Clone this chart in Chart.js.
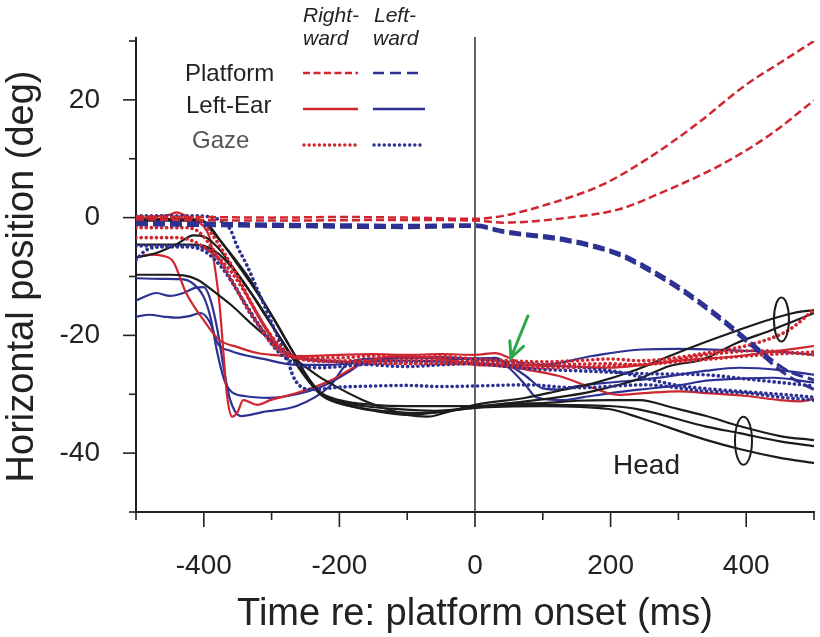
<!DOCTYPE html>
<html><head><meta charset="utf-8">
<script src="https://cdn.jsdelivr.net/npm/chart.js@4"></script>
<style>html,body{margin:0;padding:0;background:#fff}</style>
</head><body>
<canvas id="c" width="820" height="637"></canvas>
<script>
// ---------- data (time in ms, horizontal position in deg) ----------
const xTickLabels = [-400, -200, 0, 200, 400];
const yTickLabels = [20, 0, -20, -40];

// Platform (dashed)
const platRight1 = [[-500,0.2],[-400,0.1],[-300,0],[-200,0.1],[-100,0],[0,-0.2],[41,0.3],[114,2.5],[188,5.6],[253,9.9],[326,15.8],[400,22.6],[450,26.3],[500,30]];
const platRight2 = [[-500,-0.3],[-300,-0.5],[-100,-0.4],[0,-0.5],[41,-0.85],[138,0],[212,1.4],[276,4.3],[360,8.8],[433,13.9],[500,19.9]];
const platLeft1 = [[-500,-0.8],[-400,-0.9],[-300,-1.1],[-200,-1.2],[-100,-1.3],[0,-1.2],[41,-2.2],[138,-3.7],[212,-6],[260,-8.8],[310,-12.4],[360,-16.7],[408,-21.3],[458,-25.8],[500,-27.6]];
const platLeft2 = [[-500,-1.2],[-300,-1.5],[-100,-1.7],[0,-1.5],[41,-2.5],[138,-4.1],[212,-6.4],[260,-9.3],[310,-12.9],[360,-17.2],[408,-21.8],[458,-26.6],[500,-29.2]];

// Left-ear (solid)
const earRight1 = [[-500,-0.3],[-470,0.2],[-450,0.5],[-440,0.9],[-430,0.5],[-415,-0.5],[-400,-1.5],[-390,-4],[-383,-9],[-377,-14.5],[-371,-23],[-366,-30],[-358,-33.8],[-350,-33],[-342,-31],[-321,-31.8],[-302,-31],[-263,-29.8],[-214,-27.7],[-165,-24.7],[-116,-23.5],[-60,-23.8],[0,-25],[30,-25.2],[75,-25.8],[124,-26.9],[173,-28.9],[211,-30.1],[250,-29.8],[300,-29.5],[341,-29.8],[400,-30.3],[450,-31],[480,-31.2],[500,-30.8]];
const earRight2 = [[-500,-6.8],[-480,-6.3],[-460,-6.5],[-445,-7.5],[-426,-12.8],[-401,-17.3],[-378,-20.7],[-350,-22],[-321,-23],[-290,-23.4],[-250,-23.5],[-200,-23.3],[-150,-23.2],[-100,-23.3],[-50,-23.2],[0,-23.3],[30,-23],[50,-23.8],[75,-25],[124,-25.2],[197,-25.5],[250,-25],[300,-24.3],[390,-23.5],[450,-22.6],[500,-21.8]];
const earLeft1 = [[-500,-10.3],[-460,-10.4],[-430,-10.5],[-415,-11.3],[-400,-13.5],[-390,-17],[-380,-23],[-370,-27.5],[-360,-29.5],[-340,-30.3],[-303,-30.6],[-263,-30],[-224,-28.6],[-189,-26.4],[-165,-24.7],[-130,-24],[-80,-23.8],[-40,-24],[0,-24],[30,-23.8],[50,-25],[75,-26.9],[100,-29],[124,-29.2],[151,-28.6],[200,-28],[250,-27.5],[300,-26.7],[341,-26],[390,-25.5],[450,-25.9],[500,-26.7]];
const earLeft2 = [[-500,-14.1],[-485,-13.3],[-470,-12.8],[-450,-13.3],[-430,-12.8],[-412,-11.9],[-400,-11.8],[-390,-14],[-380,-19],[-370,-26],[-361,-31],[-345,-33.7],[-312,-33],[-263,-32],[-214,-28.6],[-190,-25],[-160,-24],[-100,-23.8],[-50,-23.7],[0,-23.9],[30,-24],[50,-25.5],[75,-28.5],[90,-30.5],[130,-31],[160,-30.5],[200,-29.8],[243,-29.2],[300,-28.5],[341,-27.7],[400,-27.3],[440,-27.2],[500,-28]];
const earLeft3 = [[-500,-16.8],[-480,-16.5],[-460,-16.8],[-440,-17],[-420,-16.7],[-405,-16.2],[-390,-18],[-380,-21.3],[-361,-22.6],[-312,-24],[-263,-25],[-214,-25],[-165,-24.5],[-100,-24.3],[-50,-24.4],[0,-24.7],[50,-25],[100,-25],[173,-23.5],[246,-22.4],[300,-22.3],[390,-22.6],[450,-22.8],[500,-23.3]];

// Gaze (dotted)
const gazeRight1 = [[-500,0],[-420,0],[-405,-0.5],[-390,-2.5],[-370,-6],[-350,-10],[-330,-14.5],[-310,-18.5],[-290,-21.5],[-270,-23.3],[-250,-23.8],[-200,-23.8],[-150,-23.5],[-100,-23.7],[-50,-23.6],[0,-24],[50,-24.3],[100,-24.5],[150,-24.3],[200,-24],[243,-24.3],[341,-23],[415,-21.3],[464,-19],[500,-15.6]];
const gazeRight2 = [[-500,-1.7],[-430,-1.7],[-410,-2.2],[-395,-4],[-375,-7.5],[-355,-11.5],[-335,-15.5],[-315,-19],[-295,-22],[-275,-23.5],[-250,-24],[-200,-24.3],[-100,-24.2],[0,-24.5],[100,-25],[200,-24.8],[243,-25],[341,-23.3],[420,-22.6],[500,-23.3]];
const gazeRight3 = [[-500,-3.4],[-440,-3.4],[-420,-3.8],[-400,-5],[-382,-6.5],[-361,-9],[-342,-12.2],[-322,-16.2],[-302,-20],[-287,-22.4],[-272,-23.5],[-250,-24.2],[-200,-24.5],[-100,-24.8],[0,-24.8],[100,-25.5],[200,-25.2],[300,-24.5],[400,-23.5],[500,-22.8]];
const gazeLeft1 = [[-500,0.3],[-420,0.3],[-385,0],[-370,-1],[-361,-2],[-351,-4.8],[-336,-8.2],[-321,-12.2],[-306,-16.2],[-292,-20],[-277,-24],[-268,-27],[-258,-28.6],[-240,-29.2],[-200,-28.8],[-150,-28.6],[-100,-28.5],[-50,-28.7],[0,-28.6],[75,-28.4],[150,-28.9],[250,-28.4],[340,-29.5],[400,-29.8],[450,-30.5],[500,-31]];
const gazeLeft2 = [[-500,-4.8],[-430,-4.8],[-401,-5.1],[-382,-6.5],[-357,-11],[-332,-16.2],[-307,-20],[-287,-22.4],[-268,-23.5],[-250,-24],[-200,-24.5],[-150,-25],[-100,-25.3],[-50,-25],[0,-24.8],[50,-25.3],[100,-25.8],[150,-26],[250,-26.5],[340,-26.7],[400,-27.4],[450,-28],[500,-28.6]];
const gazeLeft3 = [[-500,-7.2],[-485,-5.5],[-460,-5],[-420,-5],[-395,-6],[-370,-9],[-345,-13.5],[-320,-18],[-300,-21.5],[-280,-23.8],[-260,-25],[-230,-25.5],[-200,-25.3],[-150,-24.8],[-100,-24.6],[-50,-24.5],[0,-24.3],[50,-24.6],[100,-25],[200,-26],[300,-28.5],[390,-29.5],[450,-30],[500,-30.5]];

// Head (black solid)
const head1 = [[-500,-0.5],[-420,-0.5],[-400,-0.8],[-390,-2],[-361,-6],[-332,-10.5],[-302,-16.2],[-283,-20],[-262,-24.1],[-243,-28],[-224,-30.3],[-200,-31.3],[-165,-32],[-116,-32.5],[-60,-32.8],[0,-32.3],[50,-31.6],[100,-31.5],[150,-31.1],[197,-31],[243,-31],[292,-32.3],[341,-33.7],[390,-35.4],[450,-37.1],[500,-37.8]];
const head2 = [[-500,-0.2],[-410,-0.3],[-395,-1],[-375,-4],[-350,-8],[-320,-13],[-295,-17.5],[-270,-22.5],[-250,-26.5],[-230,-29.5],[-200,-31],[-150,-31.8],[-100,-32],[-50,-32],[0,-32],[75,-31.2],[124,-30.5],[173,-29.5],[239,-27.5],[287,-25.2],[336,-24.1],[386,-21.3],[435,-19.2],[470,-17.6],[500,-16.2]];
const head3 = [[-500,-4.6],[-420,-4.6],[-395,-5],[-370,-7],[-345,-10.5],[-320,-14.5],[-295,-19],[-270,-23.5],[-250,-27],[-230,-29.8],[-210,-31.2],[-170,-32.3],[-120,-33],[-80,-33.2],[-40,-32.8],[0,-32.2],[100,-31.8],[197,-32],[243,-32.6],[341,-35.5],[390,-36.6],[450,-38],[500,-38.8]];
const head4 = [[-500,-6.8],[-470,-6],[-440,-4.5],[-415,-3],[-400,-3.2],[-380,-5],[-360,-8],[-335,-12],[-310,-16.5],[-285,-21],[-260,-25.5],[-240,-28.5],[-220,-30.5],[-190,-31.8],[-150,-32.8],[-100,-33.5],[-50,-33],[0,-32.3],[100,-32],[197,-32.5],[243,-34],[342,-37.8],[390,-39.3],[450,-40.8],[500,-41.7]];
const head5 = [[-500,-9.7],[-450,-9.7],[-430,-9.8],[-410,-10.5],[-380,-13],[-360,-14.8],[-330,-18],[-310,-20],[-290,-22],[-260,-24.5],[-230,-27],[-200,-29],[-165,-31],[-130,-32.5],[-100,-33.5],[-70,-33.8],[-40,-33],[0,-31.8],[75,-30.6],[124,-29.4],[173,-28.2],[239,-25.8],[287,-23.5],[336,-21.3],[386,-19.2],[435,-17.3],[470,-16.2],[500,-15.7]];

// annotations (data coordinates)
const headLabel = {text: 'Head', x: 253, y: -42.2};
const ellipseUpper = {x: 452, y: -17.3};
const ellipseLower = {x: 396, y: -37.9};
const arrowTail = {x: 78, y: -16.7};
const arrowTip = {x: 53, y: -23.8};

// ---------- styles ----------
const RED = '#cf2630', BLUE = '#2c3192', BLACK = '#1c1c1c', GREEN = '#2ba84a';
const FONT = "'Liberation Sans', Arial, Helvetica, sans-serif";
const DASH_R = [8, 4], DASH_B = [12, 5], DOT = [0.1, 5];

function ds(arr, color, dash, width, cap) {
  return {
    data: arr.map(([x, y]) => ({x, y})),
    borderColor: color, borderWidth: width, borderDash: dash,
    borderCapStyle: cap || 'butt', pointRadius: 0, fill: false,
    cubicInterpolationMode: 'monotone'
  };
}

const DW = 3.6;
const datasets = [
  ds(platRight1, RED, DASH_R, 2.5), ds(platRight2, RED, DASH_R, 2.5),
  ds(platLeft1, BLUE, DASH_B, 3), ds(platLeft2, BLUE, DASH_B, 3),
  ds(gazeRight1, RED, DOT, DW, 'round'), ds(gazeRight2, RED, DOT, DW, 'round'), ds(gazeRight3, RED, DOT, DW, 'round'),
  ds(gazeLeft1, BLUE, DOT, DW, 'round'), ds(gazeLeft2, BLUE, DOT, DW, 'round'), ds(gazeLeft3, BLUE, DOT, DW, 'round'),
  ds(head1, BLACK, [], 2.2), ds(head2, BLACK, [], 2.2), ds(head3, BLACK, [], 2.2), ds(head4, BLACK, [], 2.2), ds(head5, BLACK, [], 2.2),
  ds(earRight1, RED, [], 2.2), ds(earRight2, RED, [], 2.2),
  ds(earLeft1, BLUE, [], 2.2), ds(earLeft2, BLUE, [], 2.2), ds(earLeft3, BLUE, [], 2.2)
];

const decor = {
  id: 'decor',
  beforeDatasetsDraw(chart) {
    const {ctx, chartArea: a, scales: {x, y}} = chart;
    ctx.save();
    // zero line
    const x0 = x.getPixelForValue(0);
    ctx.strokeStyle = '#333'; ctx.lineWidth = 1.5;
    ctx.beginPath(); ctx.moveTo(x0, a.top - 4); ctx.lineTo(x0, a.bottom); ctx.stroke();
    // tick marks
    ctx.strokeStyle = '#222'; ctx.lineWidth = 1.6;
    for (let v = -500; v <= 500; v += 100) {
      const px = x.getPixelForValue(v), len = (v % 200 === 0) ? 15 : 8;
      ctx.beginPath(); ctx.moveTo(px, a.bottom); ctx.lineTo(px, a.bottom + len); ctx.stroke();
    }
    for (let v = -50; v <= 30; v += 10) {
      const py = y.getPixelForValue(v), len = (v % 20 === 0) ? 13 : 7;
      ctx.beginPath(); ctx.moveTo(a.left, py); ctx.lineTo(a.left - len, py); ctx.stroke();
    }
    // axis line extends slightly above the top tick
    ctx.lineWidth = 2;
    ctx.beginPath(); ctx.moveTo(a.left, a.top); ctx.lineTo(a.left, a.top - 4); ctx.stroke();
    ctx.restore();
  },
  afterDatasetsDraw(chart) {
    const {ctx, scales: {x, y}} = chart;
    ctx.save();
    // legend
    ctx.fillStyle = '#222'; ctx.textBaseline = 'middle'; ctx.textAlign = 'left';
    ctx.font = 'italic 21px ' + FONT;
    ctx.fillText('Right-', 303, 16); ctx.fillText('ward', 303, 39);
    ctx.fillText('Left-', 374, 16); ctx.fillText('ward', 373, 39);
    ctx.font = '24px ' + FONT;
    ctx.fillText('Platform', 185, 74);
    ctx.fillText('Left-Ear', 186, 106);
    ctx.fillStyle = '#555';
    ctx.fillText('Gaze', 192, 141);
    const sample = (x1, x2, yy, color, dash, w, cap) => {
      ctx.strokeStyle = color; ctx.lineWidth = w; ctx.setLineDash(dash); ctx.lineCap = cap || 'butt';
      ctx.beginPath(); ctx.moveTo(x1, yy); ctx.lineTo(x2, yy); ctx.stroke();
    };
    sample(303, 358, 73, RED, [7, 3.5], 2.5);
    sample(373, 424, 73, BLUE, [11, 6], 2.5);
    sample(303, 358, 109, RED, [], 2.5);
    sample(373, 425, 109, BLUE, [], 2.5);
    sample(304, 358, 145, RED, DOT, 3.4, 'round');
    sample(374, 425, 145, BLUE, DOT, 3.4, 'round');
    ctx.setLineDash([]); ctx.lineCap = 'butt';
    // Head label
    ctx.fillStyle = '#222'; ctx.textAlign = 'center'; ctx.font = '28px ' + FONT;
    ctx.fillText(headLabel.text, x.getPixelForValue(headLabel.x), y.getPixelForValue(headLabel.y));
    // ellipses
    ctx.strokeStyle = BLACK; ctx.lineWidth = 2;
    [[ellipseUpper, 7.5, 22], [ellipseLower, 8.5, 24]].forEach(([e, rx, ry]) => {
      ctx.beginPath();
      ctx.ellipse(x.getPixelForValue(e.x), y.getPixelForValue(e.y), rx, ry, 0, 0, Math.PI * 2);
      ctx.stroke();
    });
    // arrow
    const tx = x.getPixelForValue(arrowTail.x), ty = y.getPixelForValue(arrowTail.y);
    const hx = x.getPixelForValue(arrowTip.x), hy = y.getPixelForValue(arrowTip.y);
    ctx.strokeStyle = GREEN; ctx.lineWidth = 3; ctx.lineCap = 'round';
    ctx.beginPath(); ctx.moveTo(tx, ty); ctx.lineTo(hx, hy); ctx.stroke();
    const ang = Math.atan2(ty - hy, tx - hx);
    ctx.beginPath();
    ctx.moveTo(hx + 17 * Math.cos(ang - 0.45), hy + 17 * Math.sin(ang - 0.45));
    ctx.lineTo(hx, hy);
    ctx.lineTo(hx + 17 * Math.cos(ang + 0.45), hy + 17 * Math.sin(ang + 0.45));
    ctx.stroke();
    ctx.restore();
  }
};

const hiddenTicks = (len) => ({display: true, drawOnChartArea: false, drawTicks: true, tickLength: len, tickColor: 'rgba(0,0,0,0)'});

new Chart(document.getElementById('c'), {
  type: 'line',
  data: {datasets},
  options: {
    responsive: false, animation: false, devicePixelRatio: 1,
    layout: {padding: {left: 0, right: 6, top: 41, bottom: 0}},
    plugins: {legend: {display: false}, tooltip: {enabled: false}},
    scales: {
      x: {
        type: 'linear', min: -500, max: 500,
        grid: hiddenTicks(37),
        border: {display: true, color: '#222', width: 2},
        ticks: {stepSize: 100, autoSkip: false, maxRotation: 0, padding: 0, color: '#222',
          font: {family: FONT, size: 28},
          callback: v => xTickLabels.includes(v) ? String(v) : ''},
        title: {display: true, text: 'Time re: platform onset (ms)', color: '#222',
          font: {family: FONT, size: 38}, padding: 0},
        afterFit: s => { s.height = 125; }
      },
      y: {
        type: 'linear', min: -50, max: 30,
        grid: hiddenTicks(36),
        border: {display: true, color: '#222', width: 2},
        ticks: {stepSize: 10, autoSkip: false, padding: 0, color: '#222',
          font: {family: FONT, size: 28},
          callback: v => yTickLabels.includes(v) ? String(v) : ''},
        title: {display: true, text: 'Horizontal position (deg)', color: '#222',
          font: {family: FONT, size: 38}, padding: 0},
        afterFit: s => { s.width = 136; }
      }
    }
  },
  plugins: [decor]
});
</script>
</body></html>
